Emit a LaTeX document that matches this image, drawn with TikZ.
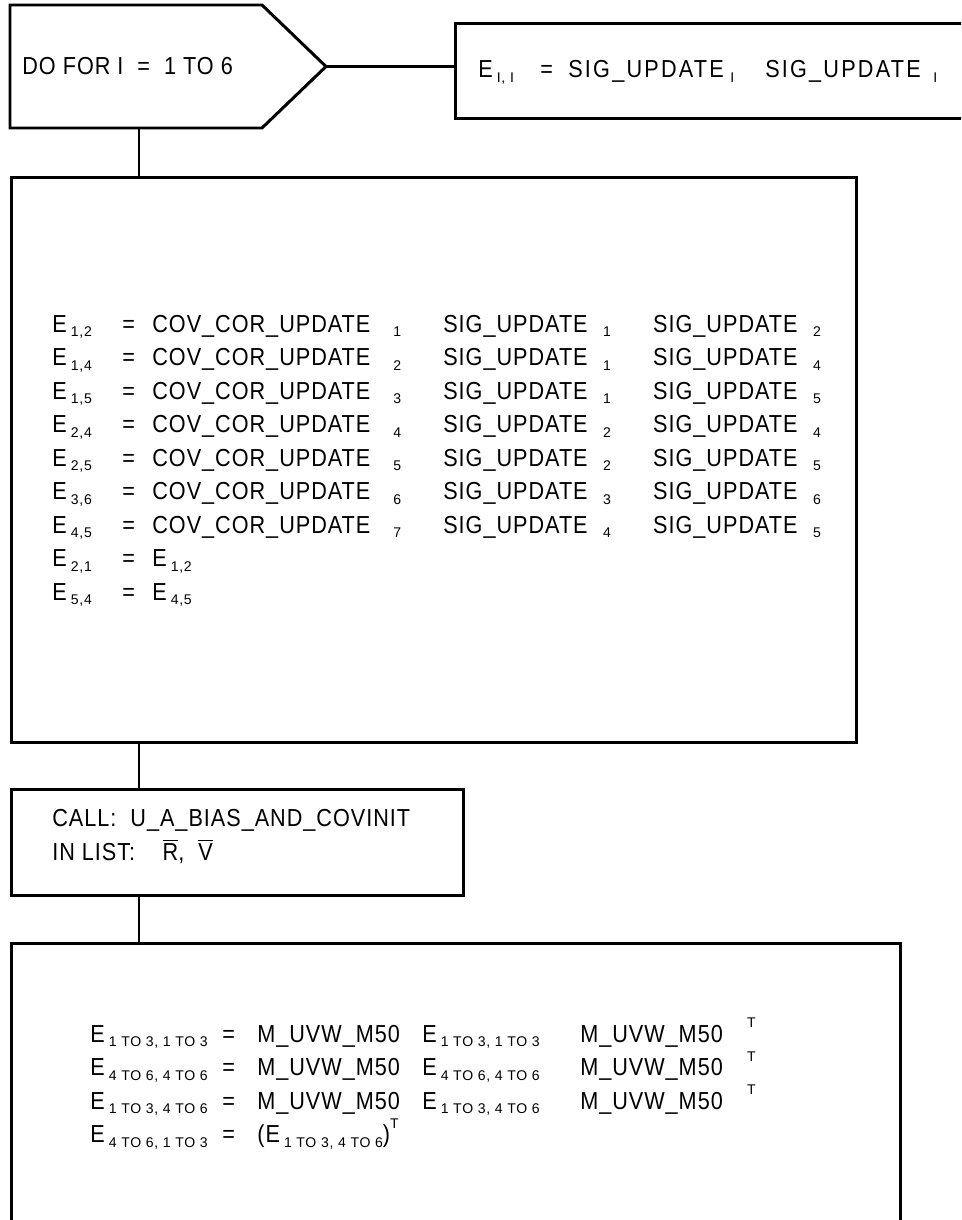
\documentclass[tikz,border=0pt]{standalone}
\usepackage{fontspec}
\setmainfont{Liberation Sans}
\newfontfamily\flowfont[LetterSpace=4, FakeStretch=0.88]{Liberation Sans}
\newfontfamily\widefont[LetterSpace=9, FakeStretch=0.88]{Liberation Sans}
\newfontfamily\subfont[LetterSpace=5]{Liberation Sans}
\usetikzlibrary{calc}
\newcommand{\idx}[1]{\raisebox{-0.35ex}{\fontsize{8}{9}\subfont #1}}
\newcommand{\tsp}[1]{\raisebox{1.1ex}{\fontsize{8}{9}\subfont #1}}
\newcommand{\cell}[2]{\makebox[#1][l]{#2}}
\newcommand{\cov}[1]{\cell{4.82cm}{COV\_COR\_UPDATE}\cell{1cm}{\idx{#1}}}
\newcommand{\sig}[1]{\cell{3.2cm}{SIG\_UPDATE}\cell{1cm}{\idx{#1}}}
\tikzset{
  box/.style={draw=black, line width=1.7pt, rectangle, inner sep=0pt, anchor=north west},
  wire/.style={line width=1.7pt},
  txt/.style={anchor=base west, inner sep=0pt, font=\fontsize{14}{16}\flowfont},
}

\begin{document}
\begin{tikzpicture}[x=0.02cm, y=-0.02cm]
    \path[use as bounding box, clip] (0,0) rectangle (961,1220);
    % loop header
    \draw[wire, line join=miter] (10,5) -- (262,5) -- (326,66.5) -- (262,128) -- (10,128) -- cycle;
    \coordinate (looptip) at (326,66.5);
    \coordinate (loopfoot) at (139,128);
    \node[txt] (dofor) at (22,75) {DO FOR I \ = \ 1 TO 6};
    % diagonal terms
    \node[box, minimum width=11.2cm, minimum height=1.9cm] (diag) at (454,22) {};
    \node[txt, font=\fontsize{14}{16}\widefont] (diagtxt) at (478,78)
      {\cell{1.24cm}{E\,\idx{I, I}}\cell{0.56cm}{=}\cell{3.24cm}{SIG\_UPDATE}\cell{0.7cm}{\idx{I}}\cell{3.36cm}{SIG\_UPDATE}\idx{I}};
    \draw[wire] (looptip) -- (looptip -| diag.west);
    % off-diagonal terms
    \node[box, minimum width=16.9cm, minimum height=11.3cm] (covupdate) at (10,176) {};
    \draw[wire] (loopfoot) -- (loopfoot |- covupdate.north);
    \node[txt] (row1) at (52,332) {\cell{1.4cm}{E\,\idx{1,2}}\cell{0.6cm}{=}\cov{1}\sig{1}\sig{2}};
    \node[txt] (row2) at (52,365.5) {\cell{1.4cm}{E\,\idx{1,4}}\cell{0.6cm}{=}\cov{2}\sig{1}\sig{4}};
    \node[txt] (row3) at (52,399) {\cell{1.4cm}{E\,\idx{1,5}}\cell{0.6cm}{=}\cov{3}\sig{1}\sig{5}};
    \node[txt] (row4) at (52,432.5) {\cell{1.4cm}{E\,\idx{2,4}}\cell{0.6cm}{=}\cov{4}\sig{2}\sig{4}};
    \node[txt] (row5) at (52,466) {\cell{1.4cm}{E\,\idx{2,5}}\cell{0.6cm}{=}\cov{5}\sig{2}\sig{5}};
    \node[txt] (row6) at (52,499.5) {\cell{1.4cm}{E\,\idx{3,6}}\cell{0.6cm}{=}\cov{6}\sig{3}\sig{6}};
    \node[txt] (row7) at (52,533) {\cell{1.4cm}{E\,\idx{4,5}}\cell{0.6cm}{=}\cov{7}\sig{4}\sig{5}};
    \node[txt] (row8) at (52,566.5) {\cell{1.4cm}{E\,\idx{2,1}}\cell{0.6cm}{=}E\,\idx{1,2}};
    \node[txt] (row9) at (52,600) {\cell{1.4cm}{E\,\idx{5,4}}\cell{0.6cm}{=}E\,\idx{4,5}};
    % bias call
    \node[box, minimum width=9.04cm, minimum height=2.12cm] (biascall) at (10,788) {};
    \draw[wire] (loopfoot |- covupdate.south) -- (loopfoot |- biascall.north);
    \node[txt] (calltxt) at (52,826) {CALL: \ U\_A\_BIAS\_AND\_COVINIT};
    \node[txt] (listtxt) at (52,860) {IN LIST:\hspace{0.55cm}$\overline{\mbox{R}}$,\ \ $\overline{\mbox{V}}$};
    % rotation to UVW
    \node[box, minimum width=17.78cm, minimum height=6.4cm] (transform) at (10,942) {};
    \draw[wire] (loopfoot |- biascall.south) -- (loopfoot |- transform.north);
    \node[txt] (rot1) at (90,1042) {\cell{2.64cm}{E\,\idx{1 TO 3, 1 TO 3}}\cell{0.7cm}{=}\cell{3.3cm}{M\_UVW\_M50}\cell{3.16cm}{E\,\idx{1 TO 3, 1 TO 3}}\cell{3.34cm}{M\_UVW\_M50}\tsp{T}};
    \node[txt] (rot2) at (90,1075.5) {\cell{2.64cm}{E\,\idx{4 TO 6, 4 TO 6}}\cell{0.7cm}{=}\cell{3.3cm}{M\_UVW\_M50}\cell{3.16cm}{E\,\idx{4 TO 6, 4 TO 6}}\cell{3.34cm}{M\_UVW\_M50}\tsp{T}};
    \node[txt] (rot3) at (90,1109) {\cell{2.64cm}{E\,\idx{1 TO 3, 4 TO 6}}\cell{0.7cm}{=}\cell{3.3cm}{M\_UVW\_M50}\cell{3.16cm}{E\,\idx{1 TO 3, 4 TO 6}}\cell{3.34cm}{M\_UVW\_M50}\tsp{T}};
    \node[txt] (rot4) at (90,1142.5) {\cell{2.64cm}{E\,\idx{4 TO 6, 1 TO 3}}\cell{0.7cm}{=}(E\,\idx{1 TO 3, 4 TO 6})\tsp{T}};
\end{tikzpicture}
\end{document}
